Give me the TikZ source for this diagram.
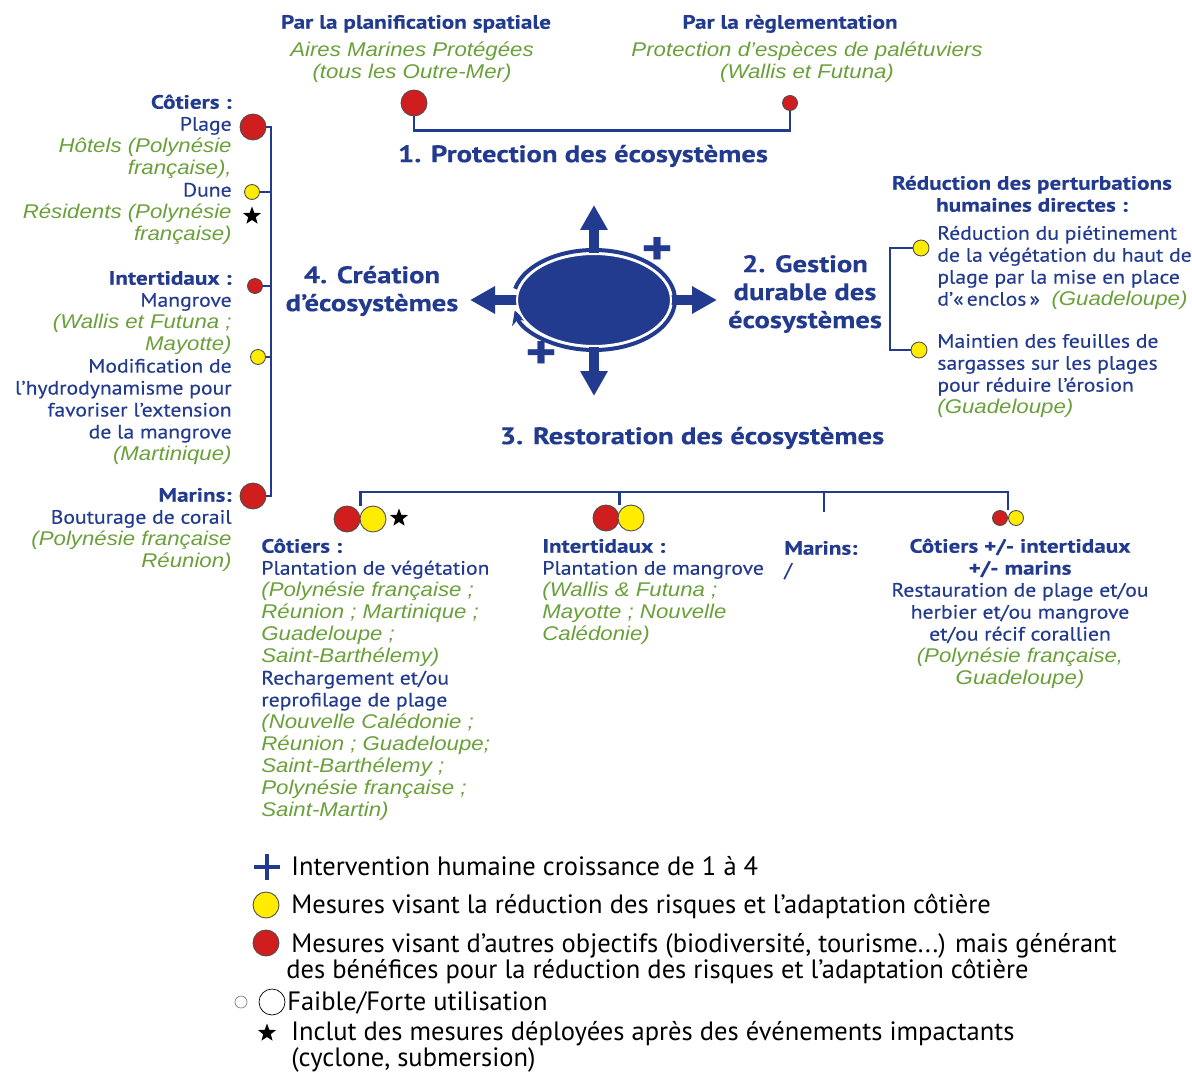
\documentclass[tikz,border=0pt]{standalone}
\usepackage{fontspec}
\setmainfont{PT Sans}[FakeStretch=1.12,FakeBold=0.35,BoldFeatures={FakeStretch=1.2}]
\newfontfamily\locfont{Liberation Sans}[FakeStretch=1.12]
\newfontfamily\legfont{PT Sans}
\usetikzlibrary{arrows.meta,shapes.geometric}
\definecolor{ptblue}{RGB}{35,59,143}
\definecolor{locgreen}{RGB}{106,160,58}
\definecolor{dotred}{RGB}{208,30,30}
\definecolor{dotyellow}{RGB}{255,236,0}
\newcommand{\loc}[1]{{\color{locgreen}\locfont\itshape\fontsize{11.3}{12.5}\selectfont #1}}
\setlength{\lineskiplimit}{-10pt}

\begin{document}
\begin{tikzpicture}[x=0.02cm,y=-0.02cm,
    blu/.style={text=ptblue,font=\fontsize{11}{12.5}\selectfont,inner sep=0pt},
    txtR/.style={blu,align=right,anchor=north east},
    txtL/.style={blu,align=left,anchor=north west},
    txtC/.style={blu,align=center,anchor=north},
    headtxt/.style={text=ptblue,font=\bfseries\fontsize{13.6}{15.9}\selectfont,align=center,inner sep=0pt},
    legtxt/.style={text=black,font=\legfont\fontsize{15.1}{14.8}\selectfont,inner sep=0pt,align=left},
    rdot/.style={circle,draw=black!70,line width=0.5pt,inner sep=0pt,fill=dotred},
    ydot/.style={circle,draw=black!70,line width=0.5pt,inner sep=0pt,fill=dotyellow},
    big/.style={minimum size=0.52cm},
    small/.style={minimum size=0.3cm},
    starmark/.style={star,star points=5,star point ratio=2.4,fill=black,inner sep=0pt,minimum size=0.38cm},
    brk/.style={draw=ptblue,line width=0.05cm},
    bigarrow/.style={ptblue,line width=0.2cm,-{Triangle[width=0.52cm,length=0.5cm]}},
    ring/.style={ptblue,line width=0.08cm,-{Stealth[width=0.3cm,length=0.28cm]}},
    plussign/.style={text=ptblue,font=\bfseries\fontsize{28}{28}\selectfont,inner sep=0pt}]
\useasboundingbox (0,0) rectangle (1192,1074);

% 1. protection
\node[txtC] (planif) at (416,13) {\strut\textbf{Par la planification spatiale}};
\node[txtC] (amp) at (412,41) {\strut\loc{Aires Marines Protégées}\\\loc{(tous les Outre-Mer)}};
\node[txtC] (regl) at (790,13) {\strut\textbf{Par la règlementation}};
\node[txtC] (protesp) at (807,41) {\strut\loc{Protection d’espèces de palétuviers}\\\loc{(Wallis et Futuna)}};
\node[rdot,big] (planC) at (414,103) {};
\node[rdot,small] (reglC) at (790,103) {};
\draw[brk] (planC.south) -- ++(0,14) -| (reglC.south);
\node[headtxt] (prot) at (583,156) {1. Protection des écosystèmes};

% 4. creation
\node[txtR] (cotL) at (232,93) {\strut\textbf{Côtiers :}\\Plage\\\loc{Hôtels (Polynésie}\\\loc{française),}\\Dune\\\loc{Résidents (Polynésie}\\\loc{française)}};
\node[txtR] (intL) at (232,269) {\strut\textbf{Intertidaux :}\\Mangrove\\\loc{(Wallis et Futuna ;}\\\loc{Mayotte)}\\Modification de\\l’hydrodynamisme pour\\favoriser l’extension\\de la mangrove\\\loc{(Martinique)}};
\node[txtR] (marL) at (232,486) {\strut\textbf{Marins:}\\Bouturage de corail\\\loc{(Polynésie française}\\\loc{Réunion)}};
\node[rdot,big] (plageC) at (253,127) {};
\node[ydot,small] (duneC) at (252,192) {};
\node[starmark] (duneS) at (252,216) {};
\node[rdot,small] (mangC) at (255,286) {};
\node[ydot,small] (hydroC) at (258,357) {};
\node[rdot,big] (marC) at (253,496) {};
\coordinate (lspine) at (271,0);
\draw[brk] (plageC.east) -| (lspine |- marC.east) -- (marC.east);
\foreach \c in {duneC,mangC,hydroC}
  \draw[brk] (\c.east) -- (\c.east -| lspine);
\node[headtxt] (creat) at (372,291) {4. Création\\d’écosystèmes};

% centre
\coordinate (mid) at (594,300);
\coordinate (tipN) at (594,205);
\coordinate (tipS) at (594,396);
\coordinate (tipW) at (470,300);
\coordinate (tipE) at (717,300);
\foreach \t in {tipN,tipS,tipW,tipE}
  \draw[bigarrow] (mid) -- (\t);
\draw[ring] (mid) ++(-167:81 and 50) arc[start angle=-167,end angle=168,x radius=81,y radius=50];
\node[ellipse,fill=ptblue,draw=white,line width=0.04cm,inner sep=0pt,minimum width=3.08cm,minimum height=1.84cm] (eco) at (mid) {};
\node[plussign] (plusA) at (657,251) {+};
\node[plussign] (plusB) at (541,355) {+};

% 2. gestion
\node[headtxt] (gest) at (805,294) {2. Gestion\\durable des\\écosystèmes};
\node[txtC] (redpert) at (1032,174) {\strut\textbf{Réduction des perturbations}\\\textbf{humaines directes :}};
\node[txtL] (pietin) at (937,224) {\strut Réduction du piétinement\\de la végétation du haut de\\plage par la mise en place\\d’«\,enclos\,»~~\loc{(Guadeloupe)}};
\node[txtL] (sarg) at (937,332) {\strut Maintien des feuilles de\\sargasses sur les plages\\pour réduire l’érosion\\\loc{(Guadeloupe)}};
\node[ydot,minimum size=0.32cm] (yA) at (921,248) {};
\node[ydot,minimum size=0.32cm] (yB) at (919,350) {};
\coordinate (rspine) at (890,0);
\draw[brk] (yA.west) -- (yA.west -| rspine) -- (yB.west -| rspine) -- (yB.west);

% 3. restoration
\node[headtxt] (resto) at (692,438) {3. Restoration des écosystèmes};
\node[rdot,big] (cotR) at (347,519) {};
\node[ydot,big] (cotY) at (373,519) {};
\node[starmark] (cotS) at (399,518) {};
\node[rdot,big] (intR) at (606,518) {};
\node[ydot,big] (intY) at (631,518) {};
\node[rdot,small] (mixR) at (1000,518) {};
\node[ydot,small] (mixY) at (1016,518) {};
\coordinate (rbar) at (0,492);
\coordinate (marJ) at (824,512);
\draw[brk] (cotR.east |- cotR.north) -- (cotR.east |- rbar) -- (mixR.east |- rbar) -- (mixR.east |- mixR.north);
\draw[brk] (intR.east |- intR.north) -- (intR.east |- rbar);
\draw[brk] (marJ) -- (marJ |- rbar);
\node[txtL] (cotB) at (261,537) {\strut\textbf{Côtiers :}\\Plantation de végétation\\\loc{(Polynésie française ;}\\\loc{Réunion ; Martinique ;}\\\loc{Guadeloupe ;}\\\loc{Saint-Barthélemy)}\\Rechargement et/ou\\reprofilage de plage\\\loc{(Nouvelle Calédonie ;}\\\loc{Réunion ; Guadeloupe;}\\\loc{Saint-Barthélemy ;}\\\loc{Polynésie française ;}\\\loc{Saint-Martin)}};
\node[txtL] (intB) at (542,537) {\strut\textbf{Intertidaux :}\\Plantation de mangrove\\\loc{(Wallis \& Futuna ;}\\\loc{Mayotte ; Nouvelle}\\\loc{Calédonie)}};
\node[txtL] (marB) at (784,539) {\strut\textbf{Marins:}\\/};
\node[txtC] (mixB) at (1020,537) {\strut\textbf{Côtiers +/- intertidaux}\\\textbf{+/- marins}\\Restauration de plage et/ou\\herbier et/ou mangrove\\et/ou récif corallien\\\loc{(Polynésie française,}\\\loc{Guadeloupe)}};

% legende
\draw[ptblue,line width=0.07cm] (254,867) -- (280,867) (267,854) -- (267,880);
\node[legtxt,anchor=base west] (legA) at (291,875) {Intervention humaine croissance de 1 à 4};
\node[ydot,big] (legY) at (266,905) {};
\node[legtxt,anchor=base west] (legB) at (291,913) {Mesures visant la réduction des risques et l’adaptation côtière};
\node[rdot,big] (legR) at (266,943) {};
\node[legtxt,anchor=north west] (legC) at (286,933) {\strut\hskip 2.8pt Mesures visant d’autres objectifs (biodiversité, tourisme...) mais générant\\des bénéfices pour la réduction des risques et l’adaptation côtière};
\node[circle,draw=gray,fill=white,inner sep=0pt,minimum size=0.24cm] (legS) at (241,1002) {};
\node[circle,draw=black,fill=white,inner sep=0pt,minimum size=0.52cm] (legL) at (272,1002) {};
\node[legtxt,anchor=base west] (legD) at (287,1010) {Faible/Forte utilisation};
\node[starmark] (legStar) at (267,1033) {};
\node[legtxt,anchor=north west] (legE) at (291,1021) {\strut Inclut des mesures déployées après des événements impactants\\(cyclone, submersion)};
\end{tikzpicture}
\end{document}
